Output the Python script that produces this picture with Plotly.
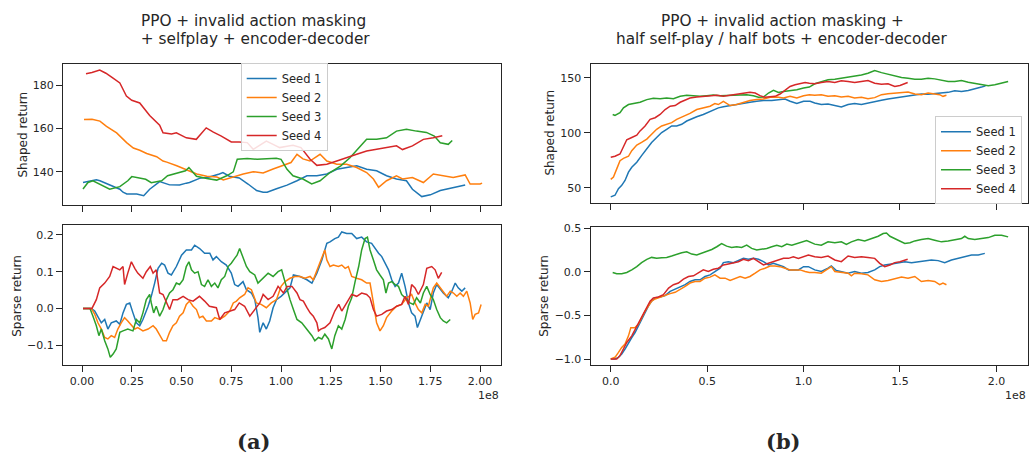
import plotly.graph_objects as go

W, H = 1032, 466
COLORS = ["#1f77b4", "#ff7f0e", "#2ca02c", "#d62728"]
SEEDS = ["Seed 1", "Seed 2", "Seed 3", "Seed 4"]

# ---------------- Panel (a): selfplay, x in units of 1e8 steps ----------------
a_top_s1_x = [0.005, 0.04, 0.072, 0.09, 0.14, 0.19, 0.206, 0.225, 0.275, 0.29, 0.31, 0.34, 0.39, 0.44, 0.49, 0.524,
              0.54, 0.59, 0.64, 0.69, 0.708, 0.74, 0.79, 0.834, 0.877, 0.91, 0.93, 0.977, 1.03, 1.08, 1.13, 1.18,
              1.23, 1.28, 1.33, 1.38, 1.43, 1.48, 1.53, 1.58, 1.63, 1.66, 1.707, 1.75, 1.80, 1.85, 1.925]
a_top_s1_y = [135.1, 135.6, 136.4, 135.9, 134.0, 132.0, 130.6, 129.8, 129.8, 129.4, 129.0, 132.0, 135.5, 134.0, 133.9,
              134.8, 135.1, 137.0, 137.6, 139.0, 139.7, 138.0, 137.2, 134.4, 131.4, 130.6, 130.6, 132.2, 133.9, 135.9,
              138.2, 138.2, 139.0, 141.2, 142.0, 142.8, 141.2, 140.5, 138.2, 136.7, 135.9, 132.0, 128.6, 129.4, 131.4,
              132.5, 133.9]

a_top_s2_x = [0.01, 0.05, 0.09, 0.123, 0.174, 0.224, 0.258, 0.29, 0.325, 0.375, 0.407, 0.426, 0.476, 0.526, 0.576,
              0.627, 0.677, 0.71, 0.76, 0.81, 0.86, 0.91, 0.96, 1.01, 1.05, 1.08, 1.11, 1.145, 1.196, 1.23, 1.28,
              1.33, 1.38, 1.43, 1.464, 1.49, 1.53, 1.58, 1.61, 1.66, 1.715, 1.765, 1.815, 1.865, 1.925, 1.95, 2.0,
              2.01]
a_top_s2_y = [164.2, 164.3, 163.4, 161.0, 158.0, 153.5, 151.0, 150.0, 148.5, 147.0, 145.0, 144.5, 142.8, 140.9, 139.0,
              138.0, 137.6, 136.3, 137.8, 139.0, 140.1, 139.5, 141.3, 142.8, 144.3, 148.1, 146.0, 145.0, 148.1, 145.0,
              143.5, 143.5, 142.0, 139.7, 136.7, 132.9, 135.9, 138.2, 136.7, 137.4, 135.1, 139.0, 138.2, 137.4, 138.6,
              134.4, 134.4, 134.8]

a_top_s3_x = [0.005, 0.03, 0.055, 0.089, 0.139, 0.19, 0.23, 0.25, 0.29, 0.32, 0.348, 0.40, 0.43, 0.474, 0.52, 0.537,
              0.575, 0.627, 0.677, 0.727, 0.76, 0.78, 0.83, 0.88, 0.93, 0.976, 1.0, 1.03, 1.06, 1.11, 1.154, 1.196,
              1.246, 1.30, 1.346, 1.397, 1.43, 1.48, 1.53, 1.58, 1.63, 1.68, 1.73, 1.77, 1.80, 1.84, 1.86]
a_top_s3_y = [132.1, 135.1, 135.9, 134.4, 132.0, 133.2, 135.9, 137.8, 137.0, 136.6, 135.0, 135.9, 138.2, 139.4, 140.5,
              142.0, 138.0, 136.9, 136.2, 138.2, 140.0, 145.8, 146.2, 145.8, 146.2, 146.3, 145.8, 141.2, 138.2, 136.7,
              134.4, 135.9, 139.7, 142.8, 146.5, 151.9, 155.0, 155.0, 155.7, 158.8, 159.7, 158.8, 158.2, 156.5, 153.4,
              152.7, 154.5]

a_top_s4_x = [0.02, 0.05, 0.089, 0.12, 0.156, 0.19, 0.223, 0.25, 0.29, 0.34, 0.39, 0.407, 0.45, 0.474, 0.524, 0.574,
              0.624, 0.66, 0.70, 0.75, 0.79, 0.83, 0.86, 0.926, 0.96, 0.993, 1.03, 1.06, 1.10, 1.146, 1.18, 1.23,
              1.28, 1.33, 1.38, 1.43, 1.48, 1.53, 1.58, 1.61, 1.66, 1.715, 1.765, 1.81]
a_top_s4_y = [185.3, 185.8, 187.0, 185.5, 183.2, 181.0, 175.0, 173.0, 171.8, 166.0, 161.5, 158.0, 157.5, 158.0, 155.7,
              155.0, 160.3, 158.3, 156.5, 153.8, 153.8, 153.5, 150.4, 154.2, 152.7, 151.2, 151.8, 152.3, 151.2, 145.8,
              143.0, 143.5, 145.0, 146.4, 148.1, 149.6, 150.3, 151.2, 152.0, 150.3, 152.0, 155.0, 155.7, 156.7]

a_bot_s1_x = [0.005, 0.047, 0.064, 0.08, 0.097, 0.114, 0.13, 0.147, 0.172, 0.19, 0.206, 0.223, 0.24, 0.256, 0.273,
              0.29, 0.306, 0.332, 0.348, 0.365, 0.382, 0.4, 0.415, 0.432, 0.449, 0.474, 0.5, 0.524, 0.55, 0.566,
              0.591, 0.616, 0.642, 0.658, 0.675, 0.7, 0.725, 0.75, 0.767, 0.784, 0.809, 0.826, 0.851, 0.868, 0.884,
              0.893, 0.91, 0.926, 0.943, 0.96, 0.977, 1.0, 1.045, 1.062, 1.095, 1.13, 1.155, 1.18, 1.205, 1.23,
              1.246, 1.27, 1.288, 1.305, 1.33, 1.355, 1.38, 1.405, 1.43, 1.455, 1.472, 1.49, 1.506, 1.522, 1.54,
              1.556, 1.573, 1.59, 1.606, 1.623, 1.64, 1.656, 1.673, 1.685, 1.7, 1.715, 1.732, 1.749, 1.765, 1.782,
              1.8, 1.815, 1.84, 1.858, 1.875, 1.89, 1.908, 1.925]
a_bot_s1_y = [0.0, 0.0, -0.007, -0.021, -0.039, -0.03, -0.056, -0.039, -0.034, -0.043, -0.012, 0.011, 0.015, -0.012,
              -0.039, -0.047, -0.03, 0.006, 0.033, 0.069, 0.109, 0.123, 0.118, 0.096, 0.091, 0.114, 0.145, 0.159,
              0.159, 0.172, 0.163, 0.15, 0.15, 0.132, 0.141, 0.127, 0.118, 0.096, 0.065, 0.06, 0.073, 0.051, 0.042,
              0.024, -0.025, -0.065, -0.039, -0.056, -0.034, 0.002, 0.024, 0.033, 0.056, 0.091, 0.087, 0.078, 0.069,
              0.096, 0.132, 0.177, 0.181, 0.19, 0.194, 0.208, 0.204, 0.204, 0.19, 0.194, 0.181, 0.177, 0.163, 0.15,
              0.141, 0.123, 0.105, 0.078, 0.06, 0.069, 0.096, 0.06, 0.015, -0.012, -0.021, -0.052, -0.03, -0.012,
              0.015, -0.003, 0.042, 0.065, 0.051, 0.042, 0.029, 0.047, 0.069, 0.056, 0.047, 0.056]

a_bot_s2_x = [0.005, 0.047, 0.064, 0.08, 0.097, 0.114, 0.13, 0.147, 0.164, 0.18, 0.197, 0.214, 0.23, 0.248, 0.265,
              0.28, 0.306, 0.332, 0.357, 0.373, 0.39, 0.407, 0.424, 0.44, 0.457, 0.474, 0.49, 0.508, 0.524, 0.54,
              0.558, 0.575, 0.59, 0.607, 0.625, 0.65, 0.667, 0.692, 0.717, 0.742, 0.76, 0.776, 0.792, 0.817, 0.834,
              0.851, 0.876, 0.9, 0.926, 0.951, 0.977, 1.0, 1.02, 1.045, 1.07, 1.095, 1.12, 1.146, 1.162, 1.188,
              1.205, 1.22, 1.23, 1.246, 1.263, 1.288, 1.305, 1.322, 1.338, 1.355, 1.38, 1.405, 1.43, 1.447, 1.464,
              1.48, 1.497, 1.514, 1.53, 1.556, 1.581, 1.606, 1.632, 1.656, 1.673, 1.69, 1.707, 1.724, 1.74, 1.765,
              1.782, 1.8, 1.815, 1.832, 1.85, 1.866, 1.883, 1.9, 1.916, 1.933, 1.95, 1.963, 1.975, 1.992, 2.005]
a_bot_s2_y = [0.0, 0.0, -0.016, -0.039, -0.056, -0.079, -0.083, -0.074, -0.079, -0.056, -0.039, -0.025, -0.034,
              -0.047, -0.056, -0.052, -0.061, -0.056, -0.047, -0.056, -0.074, -0.088, -0.088, -0.065, -0.047, -0.039,
              -0.021, -0.012, 0.011, 0.02, 0.006, -0.003, -0.025, -0.021, -0.034, -0.034, -0.025, -0.03, -0.021,
              -0.007, 0.015, 0.02, 0.029, 0.038, 0.056, 0.051, 0.015, 0.011, 0.002, 0.015, 0.024, 0.06, 0.073, 0.082,
              0.087, 0.087, 0.082, 0.087, 0.078, 0.114, 0.136, 0.159, 0.132, 0.114, 0.118, 0.114, 0.118, 0.109,
              0.114, 0.087, 0.082, 0.078, 0.069, 0.069, 0.015, -0.039, -0.061, -0.047, -0.025, -0.007, 0.006, 0.011,
              0.029, 0.038, 0.015, -0.003, -0.012, 0.011, 0.006, 0.056, 0.069, 0.056, 0.042, 0.033, 0.047, 0.042,
              0.033, 0.042, 0.033, 0.047, 0.015, -0.03, -0.016, -0.012, 0.011]

a_bot_s3_x = [0.005, 0.04, 0.055, 0.072, 0.085, 0.097, 0.114, 0.13, 0.142, 0.156, 0.172, 0.19, 0.206, 0.23, 0.256,
              0.273, 0.29, 0.306, 0.323, 0.34, 0.348, 0.36, 0.373, 0.39, 0.407, 0.424, 0.44, 0.457, 0.474, 0.49,
              0.508, 0.524, 0.537, 0.55, 0.566, 0.583, 0.6, 0.616, 0.633, 0.65, 0.667, 0.683, 0.7, 0.717, 0.734,
              0.75, 0.767, 0.779, 0.792, 0.809, 0.826, 0.843, 0.868, 0.884, 0.91, 0.935, 0.96, 0.985, 1.003, 1.012,
              1.03, 1.045, 1.062, 1.08, 1.104, 1.13, 1.155, 1.17, 1.188, 1.205, 1.22, 1.238, 1.255, 1.27, 1.288,
              1.305, 1.322, 1.338, 1.355, 1.372, 1.39, 1.405, 1.422, 1.434, 1.447, 1.464, 1.48, 1.497, 1.514, 1.527,
              1.54, 1.556, 1.573, 1.59, 1.606, 1.623, 1.648, 1.665, 1.681, 1.7, 1.715, 1.732, 1.749, 1.765, 1.782,
              1.8, 1.815, 1.832, 1.85]
a_bot_s3_y = [0.0, 0.0, -0.021, -0.047, -0.074, -0.056, -0.088, -0.11, -0.133, -0.124, -0.11, -0.065, -0.061,
              -0.056, -0.061, -0.03, -0.039, -0.012, 0.024, 0.038, 0.015, -0.012, 0.006, -0.021, -0.003, 0.024,
              0.042, 0.051, 0.069, 0.065, 0.078, 0.114, 0.127, 0.105, 0.096, 0.1, 0.065, 0.06, 0.078, 0.06, 0.069,
              0.056, 0.078, 0.087, 0.114, 0.123, 0.136, 0.145, 0.163, 0.141, 0.114, 0.1, 0.091, 0.069, 0.082, 0.096,
              0.087, 0.1, 0.105, 0.087, 0.056, 0.024, -0.003, -0.03, -0.039, -0.056, -0.074, -0.088, -0.079, -0.083,
              -0.07, -0.083, -0.11, -0.074, -0.047, -0.056, -0.03, 0.006, 0.029, 0.073, 0.114, 0.159, 0.19, 0.194,
              0.159, 0.132, 0.105, 0.091, 0.078, 0.042, 0.069, 0.073, 0.065, 0.06, 0.038, 0.029, 0.015, 0.011, 0.029,
              0.015, 0.042, 0.06, 0.038, 0.024, -0.003, -0.025, -0.034, -0.039, -0.03]

a_bot_s4_x = [0.005, 0.05, 0.072, 0.089, 0.114, 0.139, 0.156, 0.172, 0.19, 0.206, 0.214, 0.23, 0.248, 0.265, 0.28,
              0.306, 0.323, 0.343, 0.357, 0.373, 0.39, 0.407, 0.424, 0.44, 0.457, 0.48, 0.508, 0.533, 0.558, 0.59,
              0.616, 0.64, 0.675, 0.692, 0.717, 0.742, 0.767, 0.79, 0.817, 0.843, 0.868, 0.893, 0.91, 0.935, 0.96,
              0.985, 1.012, 1.03, 1.055, 1.08, 1.095, 1.112, 1.13, 1.146, 1.162, 1.18, 1.188, 1.2, 1.22, 1.246,
              1.27, 1.29, 1.305, 1.33, 1.355, 1.38, 1.405, 1.43, 1.447, 1.464, 1.48, 1.506, 1.53, 1.556, 1.581,
              1.606, 1.623, 1.64, 1.656, 1.673, 1.69, 1.715, 1.732, 1.757, 1.774, 1.79, 1.807]
a_bot_s4_y = [0.0, 0.0, 0.024, 0.056, 0.069, 0.087, 0.114, 0.109, 0.105, 0.114, 0.065, 0.096, 0.127, 0.109, 0.096,
              0.082, 0.1, 0.114, 0.096, 0.105, 0.042, 0.038, 0.015, -0.003, 0.024, 0.024, 0.033, 0.024, 0.02, 0.033,
              0.02, 0.006, 0.002, -0.03, -0.012, -0.007, -0.003, 0.015, 0.006, -0.021, -0.003, 0.015, 0.038, 0.024,
              0.033, 0.06, 0.042, 0.06, 0.06, 0.042, 0.024, 0.02, 0.002, -0.012, -0.021, -0.039, -0.061, -0.056,
              -0.052, -0.039, -0.007, 0.011, -0.007, 0.015, 0.038, 0.033, 0.042, 0.038, 0.029, -0.003, -0.021, -0.016,
              -0.007, -0.003, 0.006, 0.011, 0.033, 0.011, 0.065, 0.056, 0.038, 0.065, 0.109, 0.114, 0.105, 0.082,
              0.098]

# ---------------- Panel (b): half self-play / half bots ----------------
b_top_s1_x = [0.0, 0.022, 0.04, 0.057, 0.074, 0.092, 0.109, 0.135, 0.16, 0.187, 0.212, 0.238, 0.264, 0.29, 0.316,
              0.342, 0.368, 0.394, 0.42, 0.446, 0.48, 0.506, 0.532, 0.558, 0.584, 0.619, 0.653, 0.688, 0.722, 0.757,
              0.792, 0.835, 0.87, 0.904, 0.93, 0.965, 1.0, 1.034, 1.058, 1.092, 1.127, 1.162, 1.196, 1.231, 1.265,
              1.3, 1.334, 1.369, 1.404, 1.438, 1.473, 1.508, 1.542, 1.577, 1.611, 1.646, 1.68, 1.715, 1.75, 1.784,
              1.819, 1.854, 1.888, 1.923, 1.944]
b_top_s1_y = [41.6, 43.1, 49.1, 52.1, 56.6, 64.1, 68.6, 73.1, 79.2, 85.2, 91.2, 95.7, 100.2, 103.2, 106.2, 106.2,
              107.7, 110.7, 112.8, 114.6, 116.7, 118.8, 121.2, 122.7, 123.6, 124.8, 126.0, 127.2, 127.8, 128.7,
              129.3, 129.3, 130.2, 130.8, 128.7, 126.6, 128.7, 128.7, 127.2, 125.7, 126.3, 125.1, 123.6, 125.7,
              126.6, 125.7, 127.2, 128.7, 129.6, 130.8, 131.7, 132.3, 133.2, 133.8, 135.3, 135.0, 135.6, 136.2,
              136.8, 138.3, 137.7, 138.6, 139.8, 141.6, 142.8]

b_top_s2_x = [0.0, 0.014, 0.031, 0.048, 0.066, 0.092, 0.109, 0.135, 0.16, 0.187, 0.212, 0.238, 0.264, 0.29, 0.316,
              0.342, 0.377, 0.411, 0.446, 0.48, 0.515, 0.54, 0.558, 0.584, 0.619, 0.653, 0.688, 0.722, 0.757, 0.792,
              0.826, 0.861, 0.896, 0.93, 0.965, 1.0, 1.03, 1.058, 1.092, 1.127, 1.162, 1.196, 1.231, 1.265, 1.3,
              1.334, 1.369, 1.404, 1.438, 1.473, 1.508, 1.542, 1.577, 1.611, 1.646, 1.68, 1.706, 1.723, 1.741]
b_top_s2_y = [57.5, 59.6, 67.1, 74.6, 76.7, 78.6, 83.7, 88.8, 91.2, 94.2, 98.7, 103.2, 106.2, 107.7, 109.2, 112.2,
              114.6, 117.6, 121.2, 122.7, 124.2, 126.6, 125.7, 128.7, 124.8, 125.7, 127.8, 129.3, 130.2, 130.8,
              132.3, 132.6, 131.7, 133.2, 131.7, 133.8, 134.7, 134.1, 134.7, 133.2, 133.8, 132.6, 133.2, 131.7,
              132.3, 131.1, 132.0, 134.7, 135.6, 136.2, 137.1, 137.1, 135.3, 134.7, 136.2, 135.6, 134.7, 133.2,
              134.1]

b_top_s3_x = [0.01, 0.022, 0.048, 0.066, 0.092, 0.117, 0.152, 0.187, 0.221, 0.256, 0.29, 0.325, 0.36, 0.394, 0.429,
              0.463, 0.498, 0.532, 0.567, 0.602, 0.636, 0.671, 0.705, 0.74, 0.766, 0.792, 0.818, 0.844, 0.87, 0.896,
              0.93, 0.965, 1.0, 1.03, 1.058, 1.092, 1.127, 1.162, 1.196, 1.231, 1.265, 1.3, 1.334, 1.369, 1.404,
              1.438, 1.473, 1.508, 1.542, 1.577, 1.611, 1.646, 1.68, 1.715, 1.75, 1.784, 1.819, 1.854, 1.888, 1.923,
              1.958, 1.992, 2.027, 2.061]
b_top_s3_y = [116.7, 115.8, 118.2, 122.7, 125.7, 126.6, 127.8, 130.2, 131.4, 131.1, 131.7, 131.1, 133.2, 134.1,
              133.8, 133.2, 133.8, 134.4, 133.8, 134.1, 133.8, 134.4, 134.7, 133.8, 132.3, 132.6, 136.2, 138.6,
              136.8, 137.7, 138.3, 139.2, 140.7, 141.6, 144.6, 146.7, 148.2, 148.8, 149.7, 150.6, 151.8, 152.7,
              154.2, 156.6, 154.8, 153.3, 151.8, 150.3, 149.7, 148.8, 148.8, 149.7, 149.1, 148.2, 146.7, 146.7,
              147.6, 146.1, 145.2, 143.7, 142.8, 143.7, 145.2, 146.7]

b_top_s4_x = [0.0, 0.022, 0.048, 0.066, 0.083, 0.109, 0.135, 0.152, 0.178, 0.204, 0.23, 0.256, 0.282, 0.308, 0.334,
              0.36, 0.386, 0.411, 0.446, 0.48, 0.515, 0.55, 0.584, 0.619, 0.653, 0.688, 0.722, 0.749, 0.774, 0.8,
              0.826, 0.852, 0.878, 0.904, 0.93, 0.956, 0.982, 1.008, 1.03, 1.058, 1.092, 1.127, 1.162, 1.196, 1.231,
              1.265, 1.3, 1.334, 1.369, 1.404, 1.438, 1.473, 1.5, 1.525, 1.54]
b_top_s4_y = [77.7, 78.6, 80.7, 86.7, 93.6, 95.7, 97.8, 101.7, 106.2, 112.2, 113.7, 116.7, 121.2, 124.2, 124.8,
              127.8, 129.6, 131.7, 132.6, 133.2, 134.1, 134.1, 133.2, 134.1, 135.6, 136.2, 136.8, 136.2, 133.8,
              132.3, 132.6, 133.2, 135.3, 138.6, 142.2, 143.7, 144.6, 145.8, 145.2, 144.6, 145.8, 146.7, 145.8,
              147.3, 146.7, 145.8, 146.7, 147.6, 145.2, 144.3, 144.6, 142.2, 143.1, 144.6, 145.8]

b_bot_s1_x = [0.0, 0.022, 0.04, 0.057, 0.074, 0.092, 0.109, 0.126, 0.143, 0.16, 0.178, 0.195, 0.212, 0.23, 0.256,
              0.282, 0.308, 0.334, 0.36, 0.386, 0.411, 0.437, 0.463, 0.489, 0.515, 0.54, 0.567, 0.584, 0.61, 0.636,
              0.662, 0.688, 0.714, 0.74, 0.766, 0.792, 0.818, 0.844, 0.87, 0.896, 0.922, 0.947, 0.973, 1.0, 1.025,
              1.058, 1.092, 1.127, 1.144, 1.17, 1.196, 1.231, 1.265, 1.3, 1.334, 1.369, 1.395, 1.421, 1.456, 1.49,
              1.525, 1.56, 1.594, 1.629, 1.663, 1.698, 1.732, 1.767, 1.801, 1.836, 1.871, 1.906, 1.94]
b_bot_s1_y = [-0.998, -0.998, -0.979, -0.941, -0.884, -0.809, -0.752, -0.695, -0.62, -0.544, -0.468, -0.393, -0.336,
              -0.298, -0.287, -0.272, -0.223, -0.197, -0.166, -0.147, -0.11, -0.091, -0.091, -0.053, -0.034, 0.004,
              0.042, 0.106, 0.117, 0.106, 0.129, 0.155, 0.144, 0.155, 0.144, 0.117, 0.079, 0.098, 0.079, 0.06, 0.023,
              0.023, 0.023, 0.06, 0.06, 0.023, 0.004, 0.042, 0.068, 0.015, 0.004, -0.015, 0.004, -0.015, -0.007,
              0.023, 0.06, 0.079, 0.091, 0.106, 0.117, 0.106, 0.117, 0.129, 0.136, 0.129, 0.106, 0.136, 0.155, 0.174,
              0.193, 0.193, 0.212]

b_bot_s2_x = [0.0, 0.022, 0.04, 0.057, 0.074, 0.092, 0.104, 0.126, 0.143, 0.16, 0.178, 0.195, 0.212, 0.23, 0.256,
              0.282, 0.308, 0.334, 0.36, 0.386, 0.411, 0.437, 0.463, 0.489, 0.515, 0.54, 0.567, 0.593, 0.619, 0.645,
              0.671, 0.697, 0.722, 0.749, 0.774, 0.8, 0.826, 0.852, 0.878, 0.904, 0.93, 0.956, 0.982, 1.008, 1.03,
              1.058, 1.092, 1.118, 1.144, 1.162, 1.196, 1.231, 1.248, 1.265, 1.3, 1.334, 1.369, 1.404, 1.438, 1.473,
              1.508, 1.542, 1.577, 1.611, 1.646, 1.68, 1.706, 1.723, 1.741]
b_bot_s2_y = [-0.998, -0.979, -0.922, -0.865, -0.828, -0.733, -0.639, -0.639, -0.601, -0.525, -0.45, -0.393, -0.336,
              -0.31, -0.287, -0.272, -0.249, -0.234, -0.204, -0.166, -0.128, -0.11, -0.11, -0.072, -0.06, -0.034,
              -0.072, -0.072, -0.098, -0.072, -0.053, -0.072, -0.053, -0.015, 0.023, 0.042, 0.068, 0.068, 0.06, 0.042,
              0.023, 0.023, 0.023, 0.004, -0.007, -0.007, -0.015, 0.023, 0.06, 0.004, -0.007, -0.015, -0.045, -0.015,
              -0.022, -0.034, -0.091, -0.11, -0.098, -0.083, -0.06, -0.072, -0.053, -0.11, -0.098, -0.11, -0.147,
              -0.128, -0.147]

b_bot_s3_x = [0.01, 0.031, 0.057, 0.083, 0.109, 0.135, 0.16, 0.187, 0.212, 0.238, 0.264, 0.29, 0.316, 0.342, 0.368,
              0.394, 0.42, 0.446, 0.472, 0.498, 0.524, 0.55, 0.575, 0.601, 0.627, 0.653, 0.679, 0.705, 0.731, 0.757,
              0.783, 0.809, 0.835, 0.861, 0.887, 0.913, 0.939, 0.965, 0.991, 1.016, 1.058, 1.092, 1.127, 1.162,
              1.196, 1.222, 1.248, 1.283, 1.317, 1.352, 1.387, 1.413, 1.43, 1.448, 1.473, 1.5, 1.525, 1.552, 1.577,
              1.611, 1.646, 1.68, 1.715, 1.75, 1.784, 1.819, 1.836, 1.854, 1.888, 1.923, 1.958, 1.992, 2.027, 2.061]
b_bot_s3_y = [-0.008, -0.022, -0.022, -0.007, 0.023, 0.06, 0.106, 0.144, 0.166, 0.155, 0.163, 0.166, 0.182, 0.204,
              0.22, 0.231, 0.204, 0.193, 0.212, 0.231, 0.257, 0.288, 0.325, 0.295, 0.28, 0.288, 0.28, 0.306, 0.269,
              0.25, 0.257, 0.269, 0.288, 0.306, 0.288, 0.318, 0.306, 0.325, 0.344, 0.36, 0.318, 0.306, 0.344, 0.333,
              0.344, 0.314, 0.344, 0.371, 0.355, 0.382, 0.408, 0.439, 0.446, 0.408, 0.382, 0.355, 0.325, 0.333, 0.355,
              0.371, 0.382, 0.363, 0.344, 0.355, 0.371, 0.382, 0.408, 0.382, 0.371, 0.382, 0.393, 0.42, 0.42, 0.401]

b_bot_s4_x = [0.0, 0.031, 0.048, 0.066, 0.083, 0.109, 0.135, 0.152, 0.17, 0.187, 0.204, 0.221, 0.247, 0.273, 0.3,
              0.325, 0.351, 0.377, 0.403, 0.429, 0.455, 0.48, 0.506, 0.532, 0.558, 0.584, 0.61, 0.636, 0.662, 0.688,
              0.714, 0.74, 0.766, 0.792, 0.818, 0.844, 0.87, 0.896, 0.922, 0.947, 0.973, 1.0, 1.025, 1.058, 1.092,
              1.127, 1.162, 1.196, 1.231, 1.265, 1.3, 1.334, 1.369, 1.395, 1.421, 1.448, 1.473, 1.5, 1.525, 1.54]
b_bot_s4_y = [-0.998, -0.998, -0.96, -0.884, -0.809, -0.733, -0.62, -0.544, -0.468, -0.393, -0.336, -0.298, -0.287,
              -0.261, -0.185, -0.147, -0.128, -0.083, -0.053, -0.045, -0.007, 0.023, 0.004, 0.03, 0.042, 0.079, 0.091,
              0.106, 0.117, 0.144, 0.129, 0.155, 0.117, 0.079, 0.098, 0.117, 0.136, 0.155, 0.155, 0.174, 0.155, 0.174,
              0.193, 0.174, 0.166, 0.182, 0.136, 0.117, 0.182, 0.166, 0.174, 0.166, 0.155, 0.098, 0.06, 0.079, 0.106,
              0.117, 0.136, 0.144]

a_xticks = [0.0, 0.25, 0.5, 0.75, 1.0, 1.25, 1.5, 1.75, 2.0]
a_xtick_text = ["0.00", "0.25", "0.50", "0.75", "1.00", "1.25", "1.50", "1.75", "2.00"]
b_xticks = [0.0, 0.5, 1.0, 1.5, 2.0]
b_xtick_text = ["0.0", "0.5", "1.0", "1.5", "2.0"]
a_top_yticks = [140, 160, 180]
a_bot_yticks = [-0.1, 0.0, 0.1, 0.2]
a_bot_ytick_text = ["\u22120.1", "0.0", "0.1", "0.2"]
b_top_yticks = [50, 100, 150]
b_bot_yticks = [-1.0, -0.5, 0.0, 0.5]
b_bot_ytick_text = ["\u22121.0", "\u22120.5", "0.0", "0.5"]

title_a = ["PPO + invalid action masking", " + selfplay + encoder-decoder"]
title_b = ["PPO + invalid action masking +", "half self-play / half bots + encoder-decoder"]
panel_labels = ["(a)", "(b)"]

# ---------------- figure ----------------
fig = go.Figure()

series = {
    ("x", "y"): [(a_top_s1_x, a_top_s1_y), (a_top_s2_x, a_top_s2_y), (a_top_s3_x, a_top_s3_y), (a_top_s4_x, a_top_s4_y)],
    ("x2", "y2"): [(a_bot_s1_x, a_bot_s1_y), (a_bot_s2_x, a_bot_s2_y), (a_bot_s3_x, a_bot_s3_y), (a_bot_s4_x, a_bot_s4_y)],
    ("x3", "y3"): [(b_top_s1_x, b_top_s1_y), (b_top_s2_x, b_top_s2_y), (b_top_s3_x, b_top_s3_y), (b_top_s4_x, b_top_s4_y)],
    ("x4", "y4"): [(b_bot_s1_x, b_bot_s1_y), (b_bot_s2_x, b_bot_s2_y), (b_bot_s3_x, b_bot_s3_y), (b_bot_s4_x, b_bot_s4_y)],
}
legend_for = {("x", "y"): "legend", ("x3", "y3"): "legend2"}

for (xa, ya), lst in series.items():
    for i, (xs, ys) in enumerate(lst):
        fig.add_trace(go.Scatter(
            x=xs, y=ys, mode="lines", name=SEEDS[i],
            line=dict(color=COLORS[i], width=1.5),
            xaxis=xa, yaxis=ya,
            showlegend=(xa, ya) in legend_for,
            legend=legend_for.get((xa, ya), "legend"),
        ))

FONT = "DejaVu Sans"
TXT = "#262626"
axis_common = dict(showline=True, linecolor=TXT, linewidth=1.3, mirror=True, ticks="outside",
                   ticklen=6, tickwidth=1.3, tickcolor=TXT, showgrid=False, zeroline=False,
                   tickfont=dict(family=FONT, size=11, color=TXT))

LX = [63 / W, 501 / W]
RX = [590.7 / W, 1028 / W]
def ydom(top, bot):
    return [1 - bot / H, 1 - top / H]

leg_common = dict(bgcolor="rgba(255,255,255,0.85)", bordercolor="#cccccc", borderwidth=1,
                  font=dict(family=FONT, size=11.5, color=TXT), itemwidth=30, tracegroupgap=0)

fig.update_layout(
    width=W, height=H, margin=dict(l=0, r=0, t=0, b=0),
    paper_bgcolor="white", plot_bgcolor="white",
    xaxis=dict(domain=LX, range=[-0.0955, 2.105], tickvals=a_xticks, showticklabels=False, anchor="y", **axis_common),
    yaxis=dict(domain=ydom(61, 203), range=[124.8, 189.6], tickvals=a_top_yticks, anchor="x", **axis_common),
    xaxis2=dict(domain=LX, range=[-0.0955, 2.105], tickvals=a_xticks, ticktext=a_xtick_text, anchor="y2", **axis_common),
    yaxis2=dict(domain=ydom(223, 365), range=[-0.154, 0.228], tickvals=a_bot_yticks, ticktext=a_bot_ytick_text,
                anchor="x2", **axis_common),
    xaxis3=dict(domain=RX, range=[-0.104, 2.164], tickvals=b_xticks, showticklabels=False, anchor="y3", **axis_common),
    yaxis3=dict(domain=ydom(60.7, 201.3), range=[35.9, 162.6], tickvals=b_top_yticks, anchor="x3", **axis_common),
    xaxis4=dict(domain=RX, range=[-0.104, 2.164], tickvals=b_xticks, ticktext=b_xtick_text, anchor="y4", **axis_common),
    yaxis4=dict(domain=ydom(225, 365), range=[-1.068, 0.519], tickvals=b_bot_yticks, ticktext=b_bot_ytick_text,
                anchor="x4", **axis_common),
    legend=dict(x=240.7 / W, y=1 - 104 / H, xanchor="left", yanchor="middle", **leg_common),
    legend2=dict(x=1022 / W, y=1 - 158 / H, xanchor="right", yanchor="middle", **leg_common),
    showlegend=True,
)

ann = []
def add_text(text, x, y, size=11, angle=0, family=FONT, xanchor="center", yanchor="middle"):
    ann.append(dict(text=text, x=x / W, y=1 - y / H, xref="paper", yref="paper", showarrow=False,
                    textangle=angle, xanchor=xanchor, yanchor=yanchor,
                    font=dict(family=family, size=size, color=TXT)))

add_text(title_a[0], 253, 17.5, size=15.3)
add_text(title_a[1], 253, 35, size=15.3)
add_text(title_b[0], 782, 17.5, size=15.3)
add_text(title_b[1], 782, 35, size=15.3)
add_text("Shaped return", 23, 132, size=12, angle=-90)
add_text("Sparse return", 17, 295, size=12, angle=-90)
add_text("Shaped return", 550, 130, size=12, angle=-90)
add_text("Sparse return", 544, 295, size=12, angle=-90)
add_text("1e8", 501, 396, xanchor="right")
add_text("1e8", 1028, 396, xanchor="right")
add_text("<b>" + panel_labels[0] + "</b>", 253, 442, size=21, family="DejaVu Serif")
add_text("<b>" + panel_labels[1] + "</b>", 783, 442, size=21, family="DejaVu Serif")
fig.update_layout(annotations=ann)

fig.write_html("out.html")
